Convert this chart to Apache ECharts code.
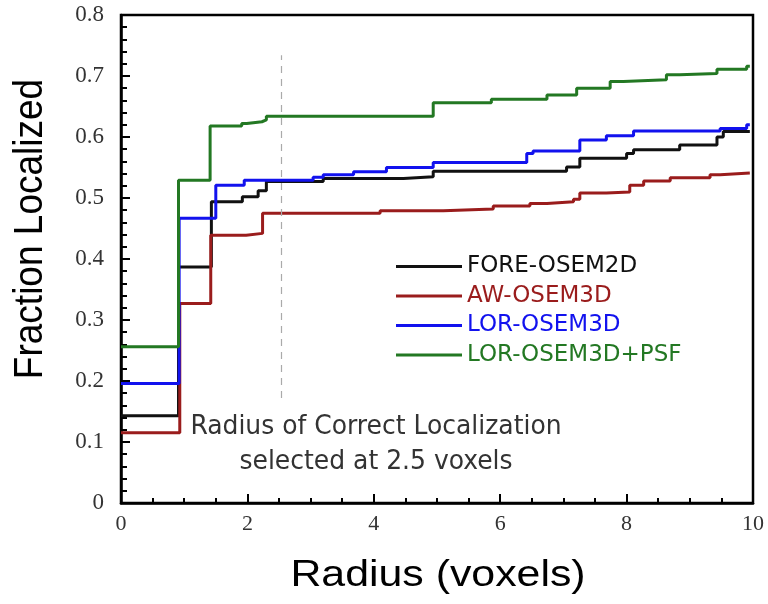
<!DOCTYPE html>
<html><head><meta charset="utf-8">
<script src="https://cdn.jsdelivr.net/npm/echarts@6/dist/echarts.min.js"></script>
<style>html,body{margin:0;padding:0;background:#fff}#c{width:768px;height:604px}</style>
</head><body><div id="c"></div>
<script>
// Series data: [radius where value changes, fraction localized]
const foreOsem2d = [[0,0.143],[0.91,0.387],[1.43,0.494],[1.92,0.502],[2.17,0.512],[2.3,0.527],[3.20,0.532],[4.47,0.535],[4.94,0.544],[7.05,0.551],[7.26,0.565],[8.0,0.573],[8.11,0.579],[8.84,0.587],[9.43,0.600],[9.53,0.609],[9.95,0.609]];
const awOsem3d = [[0,0.115],[0.93,0.327],[1.42,0.439],[1.98,0.442],[2.24,0.475],[4.10,0.479],[5.10,0.482],[5.89,0.487],[6.47,0.491],[6.74,0.494],[7.16,0.498],[7.26,0.508],[7.68,0.510],[8.05,0.521],[8.27,0.528],[8.69,0.533],[9.32,0.538],[9.48,0.541],[9.95,0.541]];
const lorOsem3d = [[0,0.196],[0.92,0.467],[1.50,0.521],[1.95,0.529],[3.04,0.534],[3.20,0.538],[3.68,0.543],[4.20,0.550],[4.94,0.558],[6.42,0.573],[6.52,0.577],[7.26,0.595],[7.68,0.602],[8.11,0.610],[9.48,0.614],[9.90,0.620],[9.95,0.621]];
const lorOsem3dPsf = [[0,0.256],[0.91,0.529],[1.41,0.618],[1.91,0.622],[1.99,0.625],[2.23,0.628],[2.3,0.634],[4.94,0.656],[5.86,0.662],[6.74,0.669],[7.21,0.680],[7.74,0.691],[7.95,0.694],[8.63,0.702],[8.84,0.704],[9.43,0.711],[9.90,0.716],[9.95,0.716]];
const seriesNames = ['FORE-OSEM2D','AW-OSEM3D','LOR-OSEM3D','LOR-OSEM3D+PSF'];
const seriesColors = ['#111111','#9a1c1c','#1212ee','#237823'];
const seriesData = [foreOsem2d, awOsem3d, lorOsem3d, lorOsem3dPsf];
const markerRadius = 2.53;
const markerRange = [0.172, 0.734];
const annotation = ['Radius of Correct Localization','selected at 2.5 voxels'];
const xTitle = 'Radius (voxels)';
const yTitle = 'Fraction Localized';

const chart = echarts.init(document.getElementById('c'), null, {renderer:'canvas'});
const drawOrder = [1,0,2,3];
const series = drawOrder.map(i => ({
  name: seriesNames[i], type:'line', step:'end', data: seriesData[i],
  symbol:'none', lineStyle:{color:seriesColors[i], width:3}, itemStyle:{color:seriesColors[i]},
  z: 3 + i, animation:false
}));
series.push({
  type:'line', data:[], silent:true,
  markLine:{symbol:'none', silent:true, animation:false, label:{show:false},
    lineStyle:{color:'#aaa', type:[7,6], width:1.2},
    data:[[{coord:[markerRadius, markerRange[0]]},{coord:[markerRadius, markerRange[1]]}]]}
});
const annFont = '"DejaVu Sans Condensed", "Liberation Sans Narrow", sans-serif';
chart.setOption({
  animation:false,
  backgroundColor:'#fff',
  grid:{left:121, right:15, top:15, bottom:101, show:true, borderColor:'#000', borderWidth:2.5, backgroundColor:'transparent'},
  legend:{
    orient:'vertical', left:391, top:250, itemWidth:66, itemHeight:3, itemGap:6.5, icon:'rect',
    data: seriesNames.map((n,i)=>({name:n, textStyle:{color:seriesColors[i]}})),
    textStyle:{fontSize:23, lineHeight:22, fontFamily:'"DejaVu Sans", sans-serif'}
  },
  xAxis:[{
    type:'value', min:0, max:10, interval:2,
    axisLine:{show:true, lineStyle:{color:'#000', width:2.5}},
    axisTick:{show:true, inside:true, length:9, lineStyle:{color:'#000', width:2}},
    minorTick:{show:true, splitNumber:4, length:5, lineStyle:{color:'#000', width:2}},
    axisLabel:{fontSize:22, color:'#333', fontFamily:'"Liberation Serif", "Times New Roman", serif', margin:10},
    splitLine:{show:false}
  }],
  yAxis:[{
    type:'value', min:0, max:0.8, interval:0.1,
    axisLine:{show:true, lineStyle:{color:'#000', width:2.5}},
    axisTick:{show:true, inside:true, length:9, lineStyle:{color:'#000', width:2}},
    minorTick:{show:true, splitNumber:5, length:6, lineStyle:{color:'#000', width:2}},
    axisLabel:{fontSize:23, color:'#333', fontFamily:'"Liberation Serif", "Times New Roman", serif', margin:17,
      formatter: v => v === 0 ? '0' : v.toFixed(1)},
    splitLine:{show:false}
  }],
  graphic:[
    {type:'text', x:376, y:427, z:10, scaleX:1.07,
      style:{text:annotation[0], fill:'#333', fontSize:26, fontFamily:annFont, textAlign:'center', textVerticalAlign:'middle'}},
    {type:'text', x:376, y:462, z:10, scaleX:1.07,
      style:{text:annotation[1], fill:'#333', fontSize:26, fontFamily:annFont, textAlign:'center', textVerticalAlign:'middle'}},
    {type:'text', x:438, y:576, z:10, scaleX:1.19,
      style:{text:xTitle, fill:'#000', fontSize:36, fontFamily:'"Liberation Sans", Arial, sans-serif', textAlign:'center', textVerticalAlign:'middle'}},
    {type:'text', x:31, y:229, z:10, rotation:Math.PI/2, scaleY:1.1,
      style:{text:yTitle, fill:'#000', fontSize:37, fontFamily:'"Liberation Sans", Arial, sans-serif', textAlign:'center', textVerticalAlign:'middle'}}
  ],
  series: series
});
</script></body></html>
